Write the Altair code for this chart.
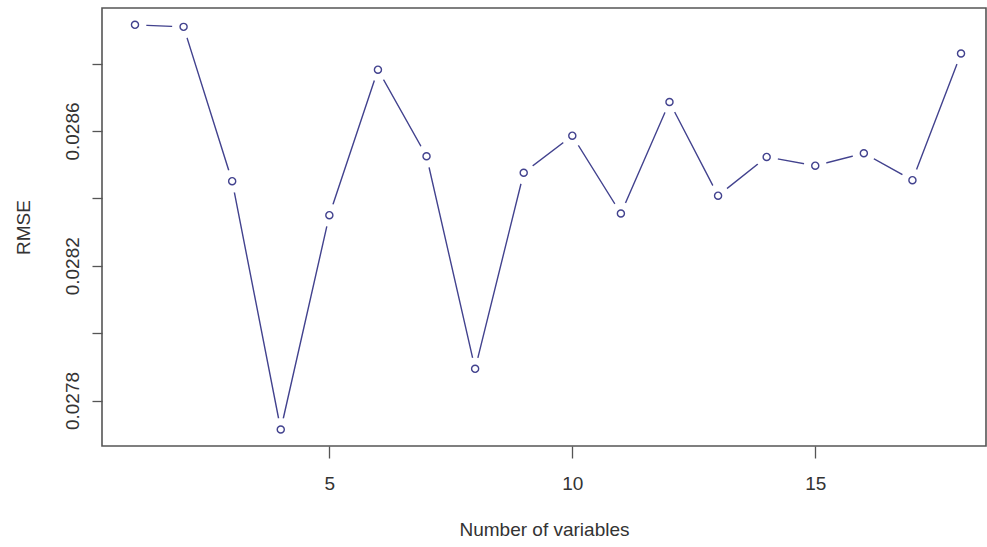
import json
import altair as alt
import pandas as pd

# Cross-validated RMSE by number of variables in the model
n_vars = list(range(1, 19))
rmse = [0.028915, 0.028909, 0.028451, 0.027714, 0.028350, 0.028782,
        0.028525, 0.027894, 0.028476, 0.028586, 0.028355, 0.028686,
        0.028408, 0.028523, 0.028497, 0.028534, 0.028454, 0.028830]

x_ticks = [5, 10, 15]
y_ticks = [0.0278, 0.0280, 0.0282, 0.0284, 0.0286, 0.0288]
y_labeled = ["0.0278", "0.0282", "0.0286"]

df = pd.DataFrame({"n": n_vars, "rmse": rmse})

FONT = "Liberation Sans, Arial, sans-serif"
FS = 19
INK = "#42428e"
AXIS_GRAY = "#555555"
TEXT = "#333333"

label_expr = (
    "indexof(" + json.dumps(y_labeled) + ", format(datum.value, '.4f')) >= 0"
    " ? format(datum.value, '.4f') : ''"
)

x_enc = alt.X(
    "n:Q",
    scale=alt.Scale(domain=[0.321, 18.514], nice=False, zero=False),
    axis=alt.Axis(
        values=x_ticks, title="Number of variables", grid=False,
        tickSize=12, tickColor=AXIS_GRAY, tickWidth=1.3,
        domain=False, labelPadding=16, titlePadding=27,
        labelFont=FONT, labelFontSize=FS, labelColor=TEXT,
        titleFont=FONT, titleFontSize=FS, titleColor=TEXT,
        titleFontWeight="normal", labelBaseline="top",
    ),
)
y_enc = alt.Y(
    "rmse:Q",
    scale=alt.Scale(domain=[0.027665, 0.028965], nice=False, zero=False),
    axis=alt.Axis(
        values=y_ticks, labelExpr=label_expr, title="RMSE", grid=False,
        tickSize=10, tickColor=AXIS_GRAY, tickWidth=1.3,
        domain=False, labelAngle=270, labelAlign="center",
        labelBaseline="bottom", labelPadding=10, titlePadding=30,
        labelFont=FONT, labelFontSize=FS, labelColor=TEXT,
        titleFont=FONT, titleFontSize=FS, titleColor=TEXT,
        titleFontWeight="normal", labelOverlap=False,
    ),
)

base = alt.Chart(df).encode(x=x_enc, y=y_enc)

line = base.mark_line(color=INK, strokeWidth=1.4)
# white discs open a gap in the line around each point
gaps = base.mark_point(shape="circle", filled=True, color="white",
                       opacity=1, size=520)
points = base.mark_point(shape="circle", filled=False, color=INK,
                         strokeWidth=1.4, size=50, opacity=1)

chart = (
    alt.layer(line, gaps, points)
    .properties(
        width=884, height=438,
        autosize=alt.AutoSizeParams(type="none"),
        padding={"left": 102, "top": 8, "right": 1, "bottom": 101},
        background="white",
    )
    .configure_view(stroke=AXIS_GRAY, strokeWidth=1.6)
)

chart.save("out.html", embed_options={"renderer": "svg", "actions": False})
